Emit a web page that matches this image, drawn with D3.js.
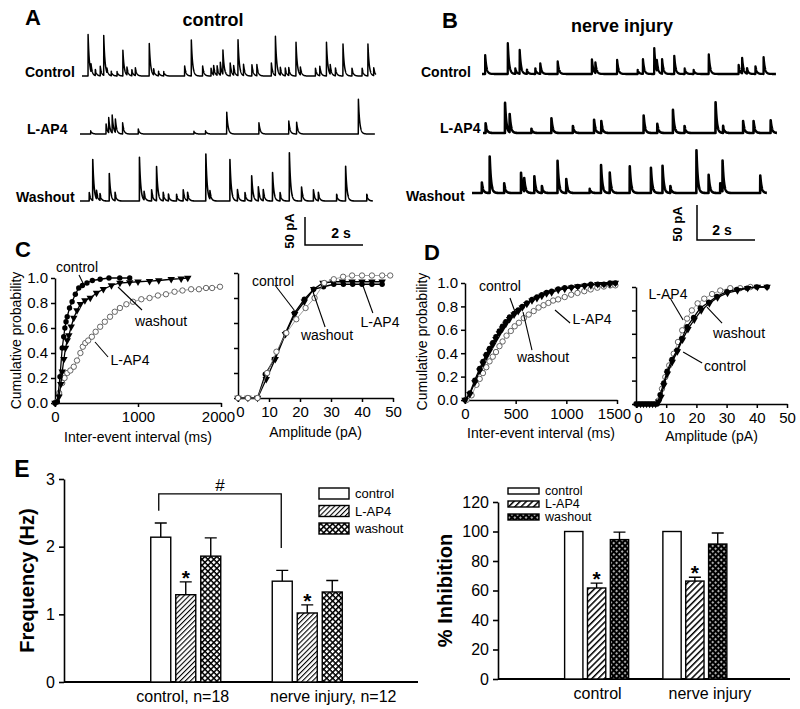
<!DOCTYPE html>
<html>
<head>
<meta charset="utf-8">
<script src="https://cdn.jsdelivr.net/npm/d3@7"></script>
<style>
  html, body { margin: 0; padding: 0; background: #fff; }
  svg { display: block; }
</style>
</head>
<body>
<svg id="fig" width="800" height="709"></svg>
<script>
// ---------------- data ----------------
// sEPSC events: [time (s), amplitude (pA)]
const aControl = [[0.21,74],[0.31,14],[0.46,11],[0.63,17],[0.75,71],[0.86,8],[1.01,8],[1.21,8],[1.41,46],[1.55,14],
  [1.72,11],[1.84,14],[2.32,58],[2.47,11],[2.64,8],[2.82,8],[3.54,18],[3.77,64],[4.16,18],[4.45,14],[4.54,17],
  [4.66,17],[4.77,23],[4.86,43],[5.11,23],[5.23,17],[5.38,64],[5.57,20],[5.86,20],[6.03,20],[6.53,23],[6.67,70],
  [6.84,14],[7.01,14],[7.13,14],[7.38,60],[7.53,14],[8.05,14],[8.20,17],[8.43,60],[8.56,17],[8.74,14],[9.00,57],
  [9.31,14],[9.66,14],[9.86,57],[10.06,14]];
const aLAP4 = [[0.37,6],[0.90,18],[0.99,27],[1.11,32],[1.22,24],[1.47,20],[2.01,9],[3.93,5],[4.33,6],[5.06,39],
  [6.17,20],[7.20,23],[7.47,21],[9.60,62]];
const aWashout = [[0.32,15],[0.44,73],[0.57,15],[0.69,12],[1.01,49],[1.21,15],[2.05,78],[2.21,15],[2.47,20],[2.64,61],
  [2.87,15],[3.05,12],[3.33,12],[3.56,20],[3.71,15],[4.34,84],[4.48,15],[5.17,74],[5.43,20],[5.69,15],[5.92,45],
  [6.15,25],[6.32,20],[6.64,51],[6.90,15],[7.22,86],[7.64,25],[8.05,20],[8.22,15],[8.85,12],[9.16,62],[9.89,12]];
const bControl = [[0.11,27],[0.89,44],[1.15,8],[1.30,34],[1.55,6],[1.84,8],[2.01,15],[2.61,18],[3.79,21],[3.91,15],
  [4.66,20],[5.37,6],[5.55,21],[5.94,37],[6.03,15],[6.21,21],[6.63,26],[6.99,8],[7.30,6],[7.82,28],[8.85,13],
  [8.97,22],[9.14,8],[9.43,11],[9.71,24]];
const bLAP4 = [[0.09,14],[0.76,43],[0.92,26],[1.67,6],[2.36,21],[3.10,10],[3.83,19],[4.08,17],[5.54,25],[6.01,13],
  [6.55,33],[6.95,10],[8.02,44],[8.28,10],[8.97,17],[9.33,17],[9.92,18]];
const bWashout = [[0.34,15],[0.61,52],[1.11,14],[1.69,29],[1.80,19],[2.15,24],[2.41,10],[2.95,46],[3.25,20],[4.06,6],
  [4.45,40],[4.75,29],[5.44,38],[6.17,36],[6.57,39],[6.84,10],[7.74,61],[8.16,26],[8.56,14],[8.64,44],[9.94,25]];

// cumulative distributions: [x, cumulative probability]
const cIeiControl = [[0,0],[28,0.01],[60,0.21],[87,0.44],[105,0.53],[119,0.6],[133,0.65],[147,0.69],[175,0.76],
  [206,0.81],[245,0.87],[286,0.92],[330,0.94],[385,0.96],[450,0.98],[544,0.99],[650,1.0],[780,1.0],[900,1.0]];
const cIeiWashout = [[0,0],[48,0.05],[70,0.15],[87,0.25],[107,0.35],[127,0.44],[147,0.5],[167,0.54],[195,0.61],
  [226,0.68],[265,0.74],[306,0.79],[360,0.82],[425,0.84],[500,0.88],[583,0.91],[680,0.94],[782,0.96],[900,0.965],
  [1000,0.97],[1139,0.975],[1250,0.98],[1400,0.99],[1520,0.995],[1600,1.0]];
const cIeiLAP4 = [[0,0],[20,0.01],[50,0.08],[87,0.16],[115,0.2],[147,0.24],[185,0.26],[226,0.29],[265,0.34],
  [306,0.4],[335,0.45],[365,0.48],[400,0.5],[444,0.53],[490,0.57],[544,0.61],[600,0.65],[663,0.69],[720,0.73],
  [782,0.76],[860,0.79],[940,0.81],[1040,0.83],[1139,0.84],[1240,0.86],[1337,0.87],[1440,0.89],[1536,0.9],
  [1640,0.91],[1734,0.91],[1820,0.92],[1893,0.92],[1988,0.93]];
const cAmpControl = [[0,0],[3.2,0],[6.3,0],[8.8,0.19],[11.7,0.31],[15.3,0.52],[18.2,0.68],[21.4,0.79],[24.4,0.87],
  [27.6,0.89],[30.9,0.91],[34,0.91],[37,0.91],[40,0.91],[43.2,0.91],[46.5,0.91]];
const cAmpWashout = [[0,0],[3.2,0],[6.3,0],[9.1,0.15],[12,0.31],[15.3,0.51],[18.3,0.67],[21.4,0.77],[24.4,0.87],
  [27.4,0.92],[30.6,0.93],[33.7,0.93],[36.8,0.93],[40,0.93],[43.2,0.93],[46.5,0.93]];
const cAmpLAP4 = [[0,0],[3.2,0],[6.3,0],[9.4,0.2],[12.4,0.37],[15.6,0.52],[18.8,0.63],[21.8,0.72],[24.7,0.8],
  [27.8,0.92],[30.9,0.95],[33.9,0.97],[36.8,0.98],[40,0.98],[43.2,0.98],[46.5,0.98],[49.1,0.98]];
const dIeiControl = [[0,0],[48,0.06],[97,0.17],[145,0.27],[178,0.33],[210,0.39],[242,0.44],[274,0.49],[305,0.54],
  [339,0.59],[370,0.63],[403,0.67],[440,0.71],[484,0.74],[525,0.77],[565,0.8],[610,0.83],[661,0.86],[710,0.88],
  [758,0.9],[805,0.92],[855,0.93],[920,0.95],[984,0.96],[1050,0.965],[1113,0.97],[1180,0.98],[1242,0.99],
  [1310,0.99],[1371,0.99],[1430,1.0],[1484,1.0]];
const dIeiWashout = [[0,0],[48,0.05],[97,0.15],[145,0.25],[178,0.31],[210,0.37],[242,0.42],[274,0.47],[305,0.52],
  [339,0.57],[370,0.61],[403,0.65],[440,0.69],[484,0.73],[525,0.76],[565,0.79],[610,0.82],[661,0.85],[710,0.87],
  [758,0.89],[805,0.91],[855,0.92],[920,0.94],[984,0.95],[1050,0.96],[1113,0.97],[1180,0.975],[1242,0.98],
  [1310,0.99],[1371,0.99],[1430,0.99],[1484,1.0]];
const dIeiLAP4 = [[16,0],[65,0.04],[113,0.13],[145,0.18],[177,0.23],[210,0.28],[242,0.33],[274,0.37],[306,0.41],
  [340,0.46],[371,0.5],[410,0.55],[452,0.59],[490,0.63],[532,0.66],[580,0.7],[629,0.73],[678,0.76],[726,0.79],
  [775,0.81],[823,0.83],[870,0.85],[919,0.86],[984,0.88],[1048,0.9],[1110,0.915],[1177,0.93],[1240,0.945],
  [1306,0.96],[1370,0.97],[1435,0.98],[1484,0.98]];
const dAmpControl = [[0,0],[1,0],[2,0],[3,0],[4,0],[5,0],[6,0],[7,0],[8,0.08],[9.2,0.18],[10.3,0.28],[11.9,0.38],
  [13.6,0.46],[15.2,0.56],[16.9,0.66],[19.1,0.74],[21.3,0.82],[24.1,0.87],[26.8,0.92],[30.1,0.96],[33.4,0.98],
  [36.8,0.99],[40,1.0],[43.4,1.0]];
const dAmpWashout = [[0.5,0],[1.5,0],[2.5,0],[3.5,0],[4.5,0],[5.5,0],[6.5,0],[7.5,0.02],[8.3,0.06],[9.2,0.16],
  [10.4,0.26],[12,0.36],[13.7,0.45],[15.4,0.55],[17.2,0.64],[19.3,0.72],[21.6,0.8],[24.3,0.86],[27,0.91],
  [30.3,0.95],[33.6,0.97],[37,0.99],[40.2,1.0],[43.4,1.0]];
const dAmpLAP4 = [[7.5,0.03],[8.6,0.13],[9.7,0.23],[11,0.33],[12.5,0.43],[13.9,0.53],[15.3,0.63],[16.9,0.73],
  [18.5,0.8],[20.4,0.86],[22.6,0.9],[25.2,0.94],[27.9,0.97],[31.2,0.99],[34.5,0.99],[37.9,1.0]];

// panel E
const conditions = ['control', 'L-AP4', 'washout'];
const freqGroups = ['control, n=18', 'nerve injury, n=12'];
const freqMean = [[2.14, 1.29, 1.86], [1.49, 1.02, 1.33]];
const freqSem = [[0.21, 0.19, 0.27], [0.16, 0.12, 0.17]];
const inhGroups = ['control', 'nerve injury'];
const inhMean = [[100, 61.7, 94.5], [100, 66.4, 91.5]];
const inhSem = [[0, 3.3, 5.1], [0, 2.6, 7.5]];
const probTicks = [0, 0.2, 0.4, 0.6, 0.8, 1.0];

// ---------------- drawing ----------------
const FONT = 'Arial, "Liberation Sans", Helvetica, sans-serif';
const PX_PER_S = 29;   // horizontal trace scale (2 s bar = 58 px)
const TAU = 0.045;     // decay of a synaptic event, s

const svg = d3.select('#fig').attr('font-family', FONT);
svg.append('rect').attr('width', 800).attr('height', 709).attr('fill', '#fff');
const defs = svg.append('defs');

function txt(x, y, s, o = {}) {
  return svg.append('text').attr('x', x).attr('y', y).text(s)
    .attr('font-size', o.size || 14)
    .attr('font-weight', o.bold ? 'bold' : null)
    .attr('text-anchor', o.anchor || 'start')
    .attr('dy', o.dy || null)
    .attr('transform', o.rotate ? `rotate(-90,${x},${y})` : null);
}

function styleAxis(g, fs, sw = 1.5) {
  g.attr('font-family', null).attr('font-size', null);
  g.select('.domain').attr('stroke', '#000').attr('stroke-width', sw);
  g.selectAll('.tick line').attr('stroke', '#000').attr('stroke-width', sw);
  g.selectAll('.tick text').attr('font-size', fs).attr('fill', '#000');
}

// ---- A / B traces ----
function trace(events, x0, yBase, dur, pxPerPA, sw) {
  const x = d3.scaleLinear().domain([0, dur]).range([x0, x0 + dur * PX_PER_S]);
  const y = d3.scaleLinear().domain([0, 50]).range([yBase, yBase - 50 * pxPerPA]);
  const grid = d3.range(0, dur, 0.004).concat(events.map(e => e[0])).sort(d3.ascending);
  const val = t => d3.sum(events, ([t0, a]) => t >= t0 ? a * Math.exp(-(t - t0) / TAU) : 0);
  svg.append('path').datum(grid)
    .attr('d', d3.line().x(t => x(t)).y(t => y(val(t))))
    .attr('fill', 'none').attr('stroke', '#000')
    .attr('stroke-width', sw).attr('stroke-linejoin', 'round');
}

function scaleBar(x0, y0, pxPerPA, lblX, lblY, sX, sY) {
  const x = d3.scaleLinear().domain([0, 2]).range([x0, x0 + 2 * PX_PER_S]);
  const y = d3.scaleLinear().domain([0, 50]).range([y0, y0 - 50 * pxPerPA]);
  svg.append('path')
    .attr('d', `M${x(0)},${y(50)}V${y(0)}H${x(2)}`)
    .attr('fill', 'none').attr('stroke', '#000').attr('stroke-width', 1.5);
  txt(lblX, lblY, '50 pA', { size: 13, bold: true, anchor: 'middle', rotate: true });
  txt(sX, sY, '2 s', { size: 14, bold: true, anchor: 'middle' });
}

txt(33, 25, 'A', { size: 22, bold: true, anchor: 'middle' });
txt(213, 26, 'control', { size: 18, bold: true, anchor: 'middle' });
txt(25, 77, 'Control', { size: 14, bold: true });
txt(27, 134, 'L-AP4', { size: 14, bold: true });
txt(16, 202, 'Washout', { size: 14, bold: true });
trace(aControl, 82, 76, 10.14, 0.56, 1.5);
trace(aLAP4, 80, 134, 10.17, 0.56, 1.5);
trace(aWashout, 80, 201, 10.1, 0.56, 1.6);
scaleBar(305, 245, 0.56, 294, 231, 341, 238);

txt(450, 28, 'B', { size: 22, bold: true, anchor: 'middle' });
txt(622, 32, 'nerve injury', { size: 18, bold: true, anchor: 'middle' });
txt(421, 77, 'Control', { size: 14, bold: true });
txt(440, 133, 'L-AP4', { size: 14, bold: true });
txt(406, 201, 'Washout', { size: 14, bold: true });
trace(bControl, 482, 74, 10.14, 0.7, 2.3);
trace(bLAP4, 483, 133, 10.14, 0.7, 2.6);
trace(bWashout, 472, 193, 10.17, 0.7, 2.6);
scaleBar(697, 240, 0.7, 682, 224, 722, 235);

// ---- C / D cumulative plots ----
function marker(g, kind, px, py) {
  if (kind === 'tri') {
    g.append('path').attr('d', d3.symbol(d3.symbolTriangle, 24)())
      .attr('transform', `translate(${px},${py}) rotate(180)`).attr('fill', '#000');
  } else if (kind === 'open') {
    g.append('circle').attr('cx', px).attr('cy', py).attr('r', 2.7)
      .attr('fill', '#fff').attr('stroke', '#555').attr('stroke-width', 0.9);
  } else {
    g.append('circle').attr('cx', px).attr('cy', py).attr('r', 2.7).attr('fill', '#000');
  }
}

function cdfPanel(o) {
  const x = d3.scaleLinear().domain(o.xDomain).range(o.xRange);
  const y = d3.scaleLinear().domain([0, 1]).range(o.yRange);
  const g = svg.append('g');
  const ax = g.append('g').attr('transform', `translate(0,${o.yRange[0]})`)
    .call(d3.axisBottom(x).tickValues(o.xTicks).tickFormat(d3.format('d'))
      .tickSize(4).tickSizeOuter(0).tickPadding(4));
  styleAxis(ax, 15);
  // first / last tick labels sit tight against the neighbouring panel, as in the figure
  const n = o.xTicks.length;
  ax.selectAll('.tick text').attr('dx', (d, i) => (i === 0 ? o.firstShift || 0 : i === n - 1 ? o.lastShift || 0 : 0));
  const ay = g.append('g').attr('transform', `translate(${o.xRange[0]},0)`)
    .call(d3.axisLeft(y).tickValues(probTicks)
      .tickFormat(o.yTickLabels ? d3.format('.1f') : () => '')
      .tickSize(4).tickSizeOuter(0).tickPadding(3));
  styleAxis(ay, 15);

  o.series.forEach(s => {
    const sg = g.append('g');
    sg.append('path').datum(s.data)
      .attr('d', d3.line().x(d => x(d[0])).y(d => y(d[1])))
      .attr('fill', 'none')
      .attr('stroke', s.marker === 'open' ? '#888' : '#000')
      .attr('stroke-width', s.marker === 'open' ? 0.8 : 1.3);
    s.data.forEach(d => marker(sg, s.marker, x(d[0]), y(d[1])));
  });

  o.notes.forEach(n => {
    g.append('line')
      .attr('x1', x(n.from[0])).attr('y1', y(n.from[1]))
      .attr('x2', x(n.to[0])).attr('y2', y(n.to[1]))
      .attr('stroke', '#000').attr('stroke-width', 1.1);
    g.append('text').attr('x', x(n.at[0])).attr('y', y(n.at[1])).attr('dy', '0.35em')
      .attr('text-anchor', 'middle').attr('font-size', 14).text(n.text);
  });

  txt(d3.mean(o.xRange), o.xLabelY, o.xLabel, { size: 14, anchor: 'middle' });
  if (o.yLabel) txt(o.yLabelX, d3.mean(o.yRange), o.yLabel, { size: 14, anchor: 'middle', rotate: true, dy: '0.35em' });
}

txt(23, 257, 'C', { size: 22, bold: true, anchor: 'middle' });
cdfPanel({
  xDomain: [0, 2000], xRange: [55, 221], yRange: [403, 278], xTicks: [0, 1000, 2000], lastShift: -3,
  yTickLabels: true, xLabel: 'Inter-event interval (ms)', xLabelY: 442,
  yLabel: 'Cumulative probability', yLabelX: 16,
  series: [
    { data: cIeiLAP4, marker: 'open' },
    { data: cIeiWashout, marker: 'tri' },
    { data: cIeiControl, marker: 'filled' },
  ],
  notes: [
    { text: 'control', at: [265, 1.088], from: [289, 1.024], to: [349, 0.944] },
    { text: 'washout', at: [1277, 0.656], from: [759, 0.928], to: [1048, 0.744] },
    { text: 'L-AP4', at: [904, 0.344], from: [482, 0.488], to: [639, 0.368] },
  ],
});
cdfPanel({
  xDomain: [0, 50], xRange: [238, 393], yRange: [398, 273], xTicks: [0, 10, 20, 30, 40, 50], firstShift: 2,
  yTickLabels: false, xLabel: 'Amplitude (pA)', xLabelY: 437,
  series: [
    { data: cAmpControl, marker: 'filled' },
    { data: cAmpWashout, marker: 'tri' },
    { data: cAmpLAP4, marker: 'open' },
  ],
  notes: [
    { text: 'control', at: [11.3, 0.936], from: [11.9, 0.904], to: [18.1, 0.704] },
    { text: 'washout', at: [28.7, 0.504], from: [24.2, 0.848], to: [28.1, 0.568] },
    { text: 'L-AP4', at: [45.8, 0.608], from: [40, 0.92], to: [43.5, 0.68] },
  ],
});

txt(432, 260, 'D', { size: 22, bold: true, anchor: 'middle' });
cdfPanel({
  xDomain: [0, 1500], xRange: [465, 617], yRange: [400, 283], xTicks: [0, 500, 1000, 1500], lastShift: -3,
  yTickLabels: true, xLabel: 'Inter-event interval (ms)', xLabelY: 438,
  yLabel: 'Cumulative probability', yLabelX: 422,
  series: [
    { data: dIeiLAP4, marker: 'open' },
    { data: dIeiWashout, marker: 'tri' },
    { data: dIeiControl, marker: 'filled' },
  ],
  notes: [
    { text: 'control', at: [345, 0.974], from: [444, 0.872], to: [494, 0.752] },
    { text: 'washout', at: [770, 0.368], from: [573, 0.752], to: [661, 0.427] },
    { text: 'L-AP4', at: [1254, 0.692], from: [888, 0.769], to: [1037, 0.658] },
  ],
});
cdfPanel({
  xDomain: [0, 50], xRange: [636, 787], yRange: [404, 287], xTicks: [0, 10, 20, 30, 40, 50], firstShift: 2,
  yTickLabels: false, xLabel: 'Amplitude (pA)', xLabelY: 441,
  series: [
    { data: dAmpLAP4, marker: 'open' },
    { data: dAmpWashout, marker: 'tri' },
    { data: dAmpControl, marker: 'filled' },
  ],
  notes: [
    { text: 'L-AP4', at: [10.6, 0.94], from: [11.3, 0.906], to: [15.6, 0.718] },
    { text: 'washout', at: [34.1, 0.607], from: [23.5, 0.829], to: [28.5, 0.692] },
    { text: 'control', at: [29.5, 0.325], from: [15.6, 0.444], to: [21.9, 0.35] },
  ],
});

// ---- E bar charts ----
function pattern(id, size, rot, draw) {
  const p = defs.append('pattern').attr('id', id).attr('patternUnits', 'userSpaceOnUse')
    .attr('width', size).attr('height', size)
    .attr('patternTransform', rot ? `rotate(${rot})` : null);
  draw(p, size);
}
pattern('hatchL', 3.6, 45, (p, s) => {
  p.append('rect').attr('width', s).attr('height', s).attr('fill', '#fff');
  p.append('line').attr('x1', 0).attr('y1', 0).attr('x2', 0).attr('y2', s)
    .attr('stroke', '#000').attr('stroke-width', 2.2);
});
pattern('crossL', 4.2, 45, (p, s) => {
  p.append('rect').attr('width', s).attr('height', s).attr('fill', '#fff');
  p.append('path').attr('d', `M0,0V${s}M0,0H${s}`).attr('stroke', '#000').attr('stroke-width', 3);
});
pattern('hatchR', 4.4, 45, (p, s) => {
  p.append('rect').attr('width', s).attr('height', s).attr('fill', '#fff');
  p.append('line').attr('x1', 0).attr('y1', 0).attr('x2', 0).attr('y2', s)
    .attr('stroke', '#000').attr('stroke-width', 3);
});
pattern('dotsR', 4, 45, (p, s) => {
  p.append('rect').attr('width', s).attr('height', s).attr('fill', '#000');
  p.append('circle').attr('cx', s / 2).attr('cy', s / 2).attr('r', 0.9).attr('fill', '#fff');
});

function barPanel(o) {
  const x = d3.scaleBand().domain(o.groups).range(o.groupRange);
  const xi = d3.scaleBand().domain(conditions).range(o.innerRange).paddingInner(0.2);
  const y = d3.scaleLinear().domain(o.yDomain).range(o.yRange);
  const g = svg.append('g');

  const ay = g.append('g').attr('transform', `translate(${o.axisX[0]},0)`)
    .call(d3.axisLeft(y).tickValues(o.yTicks).tickFormat(d3.format('d'))
      .tickSize(5).tickSizeOuter(0).tickPadding(4));
  styleAxis(ay, 16, 1.6);
  const ax = g.append('g').attr('transform', `translate(0,${o.yRange[0]})`)
    .call(d3.axisBottom(x).tickSize(0).tickPadding(9));
  styleAxis(ax, 16);
  ax.select('.domain').remove();
  ax.selectAll('.tick text').attr('dx', (d, i) => o.labelShift[i]);
  g.append('line').attr('x1', o.axisX[0]).attr('x2', o.axisX[1])
    .attr('y1', o.yRange[0]).attr('y2', o.yRange[0]).attr('stroke', '#000').attr('stroke-width', 2);

  o.groups.forEach((grp, gi) => {
    const cx = x(grp) + x.bandwidth() / 2;
    conditions.forEach((c, ci) => {
      const bx = cx + xi(c);
      const m = o.mean[gi][ci], e = o.sem[gi][ci];
      const mid = bx + xi.bandwidth() / 2;
      if (e > 0) {
        g.append('path')
          .attr('d', `M${mid},${y(m)}V${y(m + e)}M${mid - 6},${y(m + e)}H${mid + 6}`)
          .attr('stroke', '#000').attr('stroke-width', 1.4).attr('fill', 'none');
      }
      g.append('rect').attr('x', bx).attr('y', y(m))
        .attr('width', xi.bandwidth()).attr('height', y(0) - y(m))
        .attr('fill', o.fills[ci]).attr('stroke', '#000').attr('stroke-width', 1.4);
      if (c === 'L-AP4') {
        g.append('text').attr('x', mid).attr('y', y(m + e) + 3)
          .attr('text-anchor', 'middle').attr('font-size', 21).attr('font-weight', 'bold').text('*');
      }
    });
  });

  o.legend.rows.forEach((c, i) => {
    const ly = o.legend.y + i * o.legend.step;
    g.append('rect').attr('x', o.legend.x).attr('y', ly)
      .attr('width', o.legend.w).attr('height', o.legend.h)
      .attr('fill', o.fills[i]).attr('stroke', '#000').attr('stroke-width', 1.4);
    g.append('text').attr('x', o.legend.x + o.legend.w + 6).attr('y', ly + o.legend.h / 2)
      .attr('dy', '0.35em').attr('font-size', o.legend.fs).text(c);
  });

  txt(o.yLabelX, d3.mean(o.yRange), o.yLabel, { size: 20, bold: true, anchor: 'middle', rotate: true, dy: '0.35em' });
  return { x, xi, y };
}

txt(22, 477, 'E', { size: 23, bold: true, anchor: 'middle' });
const freq = barPanel({
  groups: freqGroups, groupRange: [125, 368], innerRange: [-35, 35], axisX: [64, 418],
  yDomain: [0, 3], yRange: [682, 479], yTicks: [0, 1, 2, 3], labelShift: [-3, 26],
  mean: freqMean, sem: freqSem, fills: ['#fff', 'url(#hatchL)', 'url(#crossL)'],
  legend: { rows: conditions, x: 319, y: 488, step: 17.5, w: 30, h: 11, fs: 13 },
  yLabel: 'Frequency (Hz)', yLabelX: 27,
});
// significance bracket between the two control bars
{
  const { x, xi, y } = freq;
  const c0 = x(freqGroups[0]) + x.bandwidth() / 2 + xi('control') + xi.bandwidth() / 2 - 2;
  const c1 = x(freqGroups[1]) + x.bandwidth() / 2 + xi('control') + xi.bandwidth() / 2 - 1;
  svg.append('path')
    .attr('d', `M${c0},${y(2.53)}V${y(2.78)}H${c1}V${y(1.98)}`)
    .attr('fill', 'none').attr('stroke', '#000').attr('stroke-width', 1.3);
  txt((c0 + c1) / 2, y(2.78) - 3, '#', { size: 17, anchor: 'middle' });
}

barPanel({
  groups: inhGroups, groupRange: [547.5, 744], innerRange: [-32, 32], axisX: [498, 790],
  yDomain: [0, 120], yRange: [679, 502], yTicks: [0, 20, 40, 60, 80, 100, 120], labelShift: [1, 15],
  mean: inhMean, sem: inhSem, fills: ['#fff', 'url(#hatchR)', 'url(#dotsR)'],
  legend: { rows: conditions, x: 508, y: 488, step: 13, w: 31, h: 6, fs: 12.5 },
  yLabel: '% Inhibition', yLabelX: 445,
});
</script>
</body>
</html>
